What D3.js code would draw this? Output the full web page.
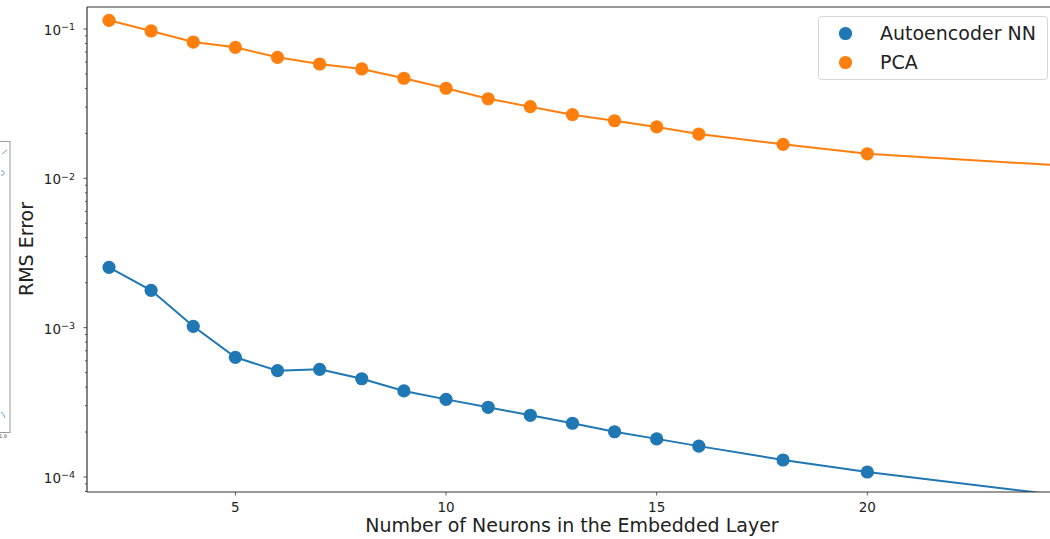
<!DOCTYPE html>
<html>
<head>
<meta charset="utf-8">
<script src="https://cdn.jsdelivr.net/npm/d3@7"></script>
<style>
  html, body { margin: 0; padding: 0; background: #fff; }
  svg { display: block; font-family: "DejaVu Sans", sans-serif; }
</style>
</head>
<body>
<svg id="chart" width="1050" height="539"></svg>
<script>
// Embedded-layer sizes and RMS reconstruction error for each method
const neurons = [2, 3, 4, 5, 6, 7, 8, 9, 10, 11, 12, 13, 14, 15, 16, 18, 20, 25];
const autoencoderRms = [0.002536, 0.001779, 0.001021, 0.000633, 0.000515, 0.000526, 0.000455,
  0.000377, 0.000331, 0.000293, 0.000259, 0.000229, 0.000201, 0.000180, 0.000161,
  0.000130, 0.000108, 0.0000730];
const pcaRms = [0.1143, 0.0970, 0.0818, 0.0754, 0.0646, 0.0583, 0.0540, 0.0468, 0.0401,
  0.0341, 0.0302, 0.0267, 0.0243, 0.0221, 0.0198, 0.0169, 0.0146, 0.0120];
const seriesNames = ["Autoencoder NN", "PCA"];
const seriesColors = ["#1f77b4", "#ff7f0e"];
const xTicks = [5, 10, 15, 20];
const yMajorExponents = [-1, -2, -3, -4];

const svg = d3.select("#chart");
const margin = { left: 87, top: 7, bottom: 47 };
const plotW = 975, plotH = 539 - margin.top - margin.bottom;

const x = d3.scaleLinear().domain([1.478, 2 + plotW / 42.13 - 22 / 42.13]).range([0, plotW]);
const y = d3.scaleLog().domain([Math.pow(10, -4.1004), Math.pow(10, -0.8527)]).range([plotH, 0]);

const g = svg.append("g").attr("transform", `translate(${margin.left},${margin.top})`);

g.append("clipPath").attr("id", "plot-clip")
  .append("rect").attr("x", 0).attr("y", 0).attr("width", plotW).attr("height", plotH);

// Y axis: decade labels plus minor ticks
const minorVals = [];
for (let e = -5; e <= 0; e++) for (let m = 2; m <= 9; m++) {
  const v = m * Math.pow(10, e);
  if (v >= y.domain()[0] && v <= y.domain()[1]) minorVals.push(v);
}
g.append("g").selectAll("line.minor").data(minorVals).join("line")
  .attr("x1", 0).attr("x2", -2).attr("y1", d => y(d)).attr("y2", d => y(d))
  .attr("stroke", "#333").attr("stroke-width", 0.8);

const majors = g.append("g").selectAll("g").data(yMajorExponents).join("g")
  .attr("transform", d => `translate(0,${y(Math.pow(10, d))})`);
majors.append("line").attr("x1", 0).attr("x2", -3.5).attr("stroke", "#333").attr("stroke-width", 0.8);
const lbl = majors.append("text").attr("x", -12).attr("dy", "0.45em")
  .attr("text-anchor", "end").attr("fill", "#222").style("font-size", "13.5px");
lbl.append("tspan").text("10");
lbl.append("tspan").attr("dy", "-0.5em").style("font-size", "9.5px").text(d => "\u2212" + Math.abs(d));

// X axis
const xAxis = g.append("g").attr("transform", `translate(0,${plotH})`);
xAxis.selectAll("line").data(xTicks).join("line")
  .attr("x1", d => x(d)).attr("x2", d => x(d)).attr("y1", 0).attr("y2", 3.5)
  .attr("stroke", "#333").attr("stroke-width", 0.8);
xAxis.selectAll("text").data(xTicks).join("text")
  .attr("x", d => x(d)).attr("y", 20).attr("text-anchor", "middle")
  .attr("fill", "#222").style("font-size", "13.5px").text(d => d);

// Series lines and markers
const series = [autoencoderRms, pcaRms];
const plot = g.append("g").attr("clip-path", "url(#plot-clip)");
const line = d3.line().x((d, i) => x(neurons[i])).y(d => y(d));
series.forEach((vals, s) => {
  plot.append("path").datum(vals).attr("d", line)
    .attr("fill", "none").attr("stroke", seriesColors[s]).attr("stroke-width", 2);
  plot.append("g").selectAll("circle").data(vals).join("circle")
    .attr("cx", (d, i) => x(neurons[i])).attr("cy", d => y(d)).attr("r", 6.6)
    .attr("fill", seriesColors[s]);
});

// Spines
g.append("line").attr("x1", 0).attr("x2", 0).attr("y1", 0).attr("y2", plotH).attr("stroke", "#333").attr("stroke-width", 1.2);
g.append("line").attr("x1", 0).attr("x2", plotW).attr("y1", 0).attr("y2", 0).attr("stroke", "#333").attr("stroke-width", 1.2);
g.append("line").attr("x1", 0).attr("x2", plotW).attr("y1", plotH).attr("y2", plotH).attr("stroke", "#333").attr("stroke-width", 1.2);

// Axis titles
svg.append("text").attr("x", 572).attr("y", 532).attr("text-anchor", "middle")
  .attr("fill", "#222").style("font-size", "19px").text("Number of Neurons in the Embedded Layer");
svg.append("text").attr("transform", "translate(33,249) rotate(-90)").attr("text-anchor", "middle")
  .attr("fill", "#222").style("font-size", "19px").text("RMS Error");

// Legend
const legend = svg.append("g").attr("transform", "translate(818.5,16.5)");
legend.append("rect").attr("width", 229).attr("height", 63).attr("rx", 3)
  .attr("fill", "#fff").attr("fill-opacity", 0.8).attr("stroke", "#d6d6d6");
seriesNames.forEach((name, i) => {
  const row = legend.append("g").attr("transform", `translate(0,${17 + i * 29})`);
  row.append("circle").attr("cx", 27).attr("cy", 0).attr("r", 6.6).attr("fill", seriesColors[i]);
  row.append("text").attr("x", 61.5).attr("dy", "0.36em").attr("fill", "#222")
    .style("font-size", "19px").text(name);
});

// Edge of a neighbouring panel on the far left
const side = svg.append("g");
side.append("rect").attr("x", -2).attr("y", 141.5).attr("width", 12).attr("height", 291)
  .attr("fill", "none").attr("stroke", "#999").attr("stroke-width", 1);
side.append("path").attr("d", "M2,154 L7,150").attr("stroke", "#6aa6d6").attr("fill", "none").attr("stroke-width", 1);
side.append("path").attr("d", "M1,171 A2.2,2.2 0 1 1 1,175").attr("stroke", "#6aa6d6").attr("fill", "none").attr("stroke-width", 1);
side.append("path").attr("d", "M1,412 Q4,413 5,418").attr("stroke", "#6aa6d6").attr("fill", "none").attr("stroke-width", 1);
side.append("text").attr("x", 3).attr("y", 438).attr("text-anchor", "middle").attr("fill", "#555")
  .style("font-size", "5px").text("1.9");
</script>
</body>
</html>
